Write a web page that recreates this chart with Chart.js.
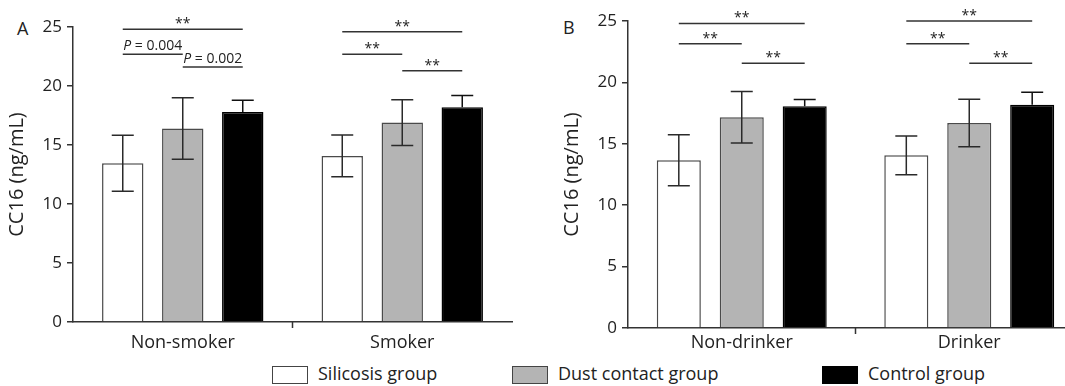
<!DOCTYPE html>
<html>
<head>
<meta charset="utf-8">
<script src="https://cdn.jsdelivr.net/npm/chart.js@4.4.0/dist/chart.umd.min.js"></script>
<style>
    body { margin: 0; width: 1065px; height: 386px; overflow: hidden; background: #fff; position: relative;
           font-family: 'Open Sans', sans-serif; color: #222; }
    .panel { position: absolute; top: 0; height: 355px; }
    #panelA { left: 0; width: 520px; }
    #panelB { left: 530px; width: 555px; }
    .letter { position: absolute; font-size: 18px; line-height: 1; }
    .legend-item { position: absolute; top: 363px; height: 20px; display: flex; align-items: center; font-size: 18px; }
    .swatch { width: 36px; height: 18px; box-sizing: border-box; border: 1.5px solid #444; margin-right: 10px; margin-top: 3px; }
</style>
</head>
<body>
<div class="letter" style="left:17px; top:19px;">A</div>
<div class="letter" style="left:563px; top:18px;">B</div>
<div class="panel" id="panelA"><canvas id="chartA"></canvas></div>
<div class="panel" id="panelB"><canvas id="chartB"></canvas></div>

<div class="legend-item" style="left:272px;"><div class="swatch" style="background:#fff;"></div>Silicosis group</div>
<div class="legend-item" style="left:512px;"><div class="swatch" style="background:#b4b4b4;"></div>Dust contact group</div>
<div class="legend-item" style="left:822px;"><div class="swatch" style="background:#000; border-color:#000;"></div>Control group</div>

<script>
// Data
const groupLabels = ['Silicosis group', 'Dust contact group', 'Control group'];
const smokeCategories = ['Non-smoker', 'Smoker'];
const drinkCategories = ['Non-drinker', 'Drinker'];
const yTicks = [0, 5, 10, 15, 20, 25];

// Panel A - smoking (mean, SD)
const smokeSilicosis = [13.45, 14.07];
const smokeDust = [16.4, 16.9];
const smokeControl = [17.8, 18.2];
const smokeSilicosisSd = [2.38, 1.77];
const smokeDustSd = [2.6, 1.94];
const smokeControlSd = [1.0, 1.0];

// Panel B - drinking (mean, SD)
const drinkSilicosis = [13.66, 14.06];
const drinkDust = [17.16, 16.69];
const drinkControl = [18.05, 18.19];
const drinkSilicosisSd = [2.07, 1.58];
const drinkDustSd = [2.1, 1.93];
const drinkControlSd = [0.55, 1.0];

// Significance brackets: [category, from group, to group, y value, label]
const smokeBrackets = [
    [0, 0, 2, 24.8, '**'],
    [0, 0, 1, 22.7, 'P = 0.004'],
    [0, 1, 2, 21.6, 'P = 0.002'],
    [1, 0, 2, 24.6, '**'],
    [1, 0, 1, 22.7, '**'],
    [1, 1, 2, 21.3, '**']
];
const drinkBrackets = [
    [0, 0, 2, 24.8, '**'],
    [0, 0, 1, 23.15, '**'],
    [0, 1, 2, 21.55, '**'],
    [1, 0, 2, 25.0, '**'],
    [1, 0, 1, 23.15, '**'],
    [1, 1, 2, 21.55, '**']
];

const fills = ['#ffffff', '#b4b4b4', '#000000'];
const borders = ['#4a4a4a', '#4a4a4a', '#000000'];
const FONT = "'Open Sans', sans-serif";

// Error bars drawn from each dataset's sd array
const errorBarPlugin = {
    id: 'errorBars',
    afterDatasetsDraw(chart) {
        const ctx = chart.ctx;
        const yScale = chart.scales.y;
        ctx.save();
        ctx.lineWidth = 1.5;
        chart.data.datasets.forEach((ds, d) => {
            // the lower half sits inside the black bar, so it disappears there
            ctx.strokeStyle = d === 2 ? '#111' : '#2a2a2a';
            chart.getDatasetMeta(d).data.forEach((bar, i) => {
                const top = yScale.getPixelForValue(ds.data[i] + ds.sd[i]);
                const bottom = yScale.getPixelForValue(ds.data[i] - ds.sd[i]);
                const cap = 11;
                ctx.beginPath();
                ctx.moveTo(bar.x, top);
                ctx.lineTo(bar.x, d === 2 ? bar.y : bottom);
                ctx.moveTo(bar.x - cap, top);
                ctx.lineTo(bar.x + cap, top);
                if (d !== 2) {
                    ctx.moveTo(bar.x - cap, bottom);
                    ctx.lineTo(bar.x + cap, bottom);
                }
                ctx.stroke();
            });
        });
        ctx.restore();
    }
};

// Brackets plus the single tick between the two categories
function bracketPlugin(brackets) {
    return {
        id: 'brackets',
        afterDraw(chart) {
            const ctx = chart.ctx;
            const yScale = chart.scales.y;
            const xScale = chart.scales.x;
            ctx.save();
            ctx.strokeStyle = '#333';
            ctx.fillStyle = '#222';
            ctx.lineWidth = 1.5;

            // middle tick on x axis
            const mid = (xScale.getPixelForValue(0) + xScale.getPixelForValue(1)) / 2;
            ctx.beginPath();
            ctx.moveTo(mid, chart.chartArea.bottom);
            ctx.lineTo(mid, chart.chartArea.bottom + 6);
            ctx.stroke();

            brackets.forEach(([cat, from, to, value, label]) => {
                const x1 = chart.getDatasetMeta(from).data[cat].x;
                const x2 = chart.getDatasetMeta(to).data[cat].x;
                const y = yScale.getPixelForValue(value);
                ctx.beginPath();
                ctx.moveTo(x1, y);
                ctx.lineTo(x2, y);
                ctx.stroke();

                const cx = (x1 + x2) / 2;
                ctx.textBaseline = 'alphabetic';
                if (label.startsWith('P')) {
                    const rest = label.slice(1);
                    ctx.font = 'italic 14px ' + FONT;
                    const wP = ctx.measureText('P').width;
                    ctx.font = '14px ' + FONT;
                    const wRest = ctx.measureText(rest).width;
                    const start = cx - (wP + wRest) / 2;
                    ctx.font = 'italic 14px ' + FONT;
                    ctx.textAlign = 'left';
                    ctx.fillText('P', start, y - 4);
                    ctx.font = '14px ' + FONT;
                    ctx.fillText(rest, start + wP, y - 4);
                } else {
                    ctx.font = '14px ' + FONT;
                    ctx.textAlign = 'center';
                    ctx.fillText(label, cx, y - 1);
                }
            });
            ctx.restore();
        }
    };
}

function buildChart(canvasId, categories, means, sds, brackets, layout) {
    const datasets = groupLabels.map((label, g) => ({
        label: label,
        data: means[g],
        sd: sds[g],
        backgroundColor: fills[g],
        borderColor: borders[g],
        borderWidth: 1.5,
        categoryPercentage: layout.catPct,
        barPercentage: layout.barPct
    }));

    return new Chart(document.getElementById(canvasId), {
        type: 'bar',
        data: { labels: categories, datasets: datasets },
        options: {
            responsive: true,
            maintainAspectRatio: false,
            animation: false,
            layout: { padding: layout.padding },
            plugins: {
                legend: { display: false },
                tooltip: { enabled: false }
            },
            scales: {
                x: {
                    grid: { display: true, drawOnChartArea: false, color: 'transparent', tickLength: layout.xTick },
                    border: { color: '#333', width: 1.5 },
                    ticks: { color: '#222', font: { family: FONT, size: 18 }, padding: 0 },
                    afterFit: scale => { scale.height = layout.xHeight; }
                },
                y: {
                    min: 0,
                    max: 25,
                    afterBuildTicks: scale => { scale.ticks = yTicks.map(v => ({ value: v })); },
                    grid: { drawOnChartArea: false, color: '#333', lineWidth: 1.5, tickLength: 6 },
                    border: { color: '#333', width: 1.5 },
                    ticks: { color: '#222', font: { family: FONT, size: 17 }, padding: 5 },
                    title: { display: true, text: 'CC16 (ng/mL)', color: '#222', font: { family: FONT, size: 20 }, padding: { top: 5, bottom: 0 } },
                    afterFit: scale => { scale.width = 73; }
                }
            }
        },
        plugins: [errorBarPlugin, bracketPlugin(brackets)]
    });
}

document.addEventListener('DOMContentLoaded', function() {
    buildChart('chartA', smokeCategories,
        [smokeSilicosis, smokeDust, smokeControl],
        [smokeSilicosisSd, smokeDustSd, smokeControlSd],
        smokeBrackets,
        { padding: { left: 0, top: 27, right: 8, bottom: 3 }, xHeight: 30, xTick: 10, catPct: 0.82, barPct: 0.69 });

    buildChart('chartB', drinkCategories,
        [drinkSilicosis, drinkDust, drinkControl],
        [drinkSilicosisSd, drinkDustSd, drinkControlSd],
        drinkBrackets,
        { padding: { left: 25, top: 21, right: 2, bottom: 0 }, xHeight: 27, xTick: 4, catPct: 0.83, barPct: 0.70 });
});
</script>
</body>
</html>
